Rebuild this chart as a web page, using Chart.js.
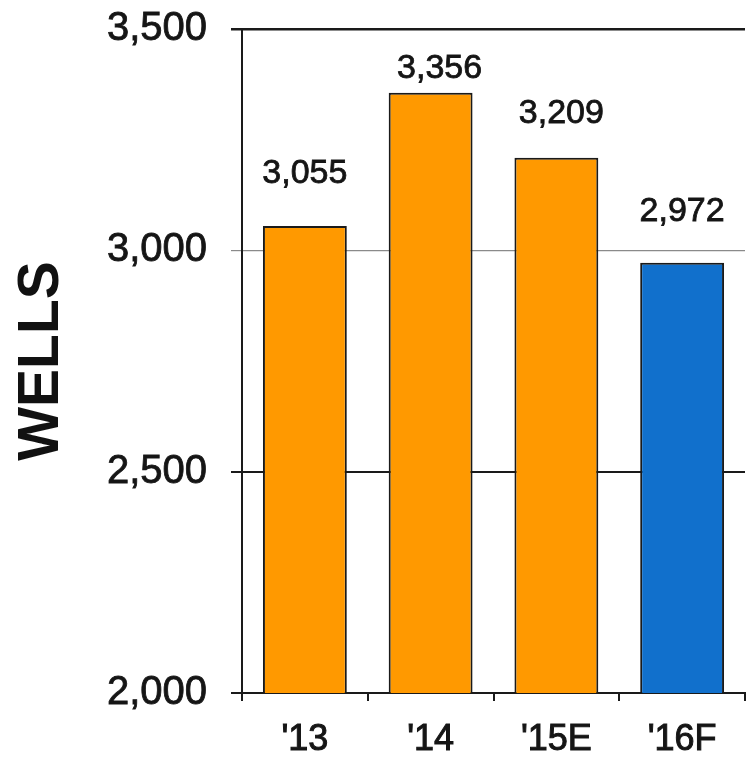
<!DOCTYPE html>
<html>
<head>
<meta charset="utf-8">
<script src="https://cdn.jsdelivr.net/npm/chart.js@4/dist/chart.umd.min.js"></script>
<style>
  html, body { margin: 0; padding: 0; background: #ffffff; }
  #wrap { width: 747px; height: 759px; }
</style>
</head>
<body>
<div id="wrap"><canvas id="c" width="747" height="759"></canvas></div>
<script>
// Wells drilled per year (E = estimate, F = forecast)
const categories = ["'13", "'14", "'15E", "'16F"];
const wells = [3055, 3356, 3209, 2972];
const valueLabels = ['3,055', '3,356', '3,209', '2,972'];
const yTicks = [2000, 2500, 3000, 3500];

// Presentation settings
const barColors = ['#FF9900', '#FF9900', '#FF9900', '#1170CC'];
const labelLift = [43, 15, 35, 42];   // gap between a bar top and its value label
const labelShift = [0, 9, 5, 0];      // horizontal nudge of each value label
const FONT = '"Liberation Sans", Arial, sans-serif';

const CHART_LEFT = 242;
const CHART_TOP = 29;
const CHART_BOTTOM = 693;

const valueLabelPlugin = {
  id: 'valueLabels',
  afterDatasetsDraw(chart) {
    const ctx = chart.ctx;
    const meta = chart.getDatasetMeta(0);
    ctx.save();
    ctx.font = '34px ' + FONT;
    ctx.fillStyle = '#151515';
    ctx.strokeStyle = '#151515';
    ctx.lineWidth = 0.8;
    ctx.textAlign = 'center';
    ctx.textBaseline = 'alphabetic';
    meta.data.forEach((bar, i) => {
      const x = bar.x + labelShift[i];
      const y = bar.y - labelLift[i];
      ctx.fillText(valueLabels[i], x, y);
      ctx.strokeText(valueLabels[i], x, y);
    });
    ctx.restore();
  }
};

new Chart(document.getElementById('c'), {
  type: 'bar',
  data: {
    labels: categories,
    datasets: [{
      data: wells,
      backgroundColor: barColors,
      borderColor: '#1a1a1a',
      borderWidth: 2,
      borderSkipped: false,
      categoryPercentage: 1.0,
      barPercentage: 0.667
    }]
  },
  options: {
    responsive: false,
    devicePixelRatio: 1,
    animation: false,
    layout: { padding: { top: CHART_TOP, right: 2, left: 0, bottom: 0 } },
    plugins: {
      legend: { display: false },
      tooltip: { enabled: false }
    },
    scales: {
      x: {
        offset: true,
        grid: {
          offset: true,
          drawOnChartArea: false,
          drawTicks: true,
          tickLength: 8,
          color: '#1a1a1a',
          lineWidth: 2
        },
        border: { display: true, color: '#1a1a1a', width: 2 },
        ticks: {
          color: '#151515',
          textStrokeColor: '#151515',
          textStrokeWidth: 1,
          font: { family: FONT, size: 36 },
          padding: 17,
          maxRotation: 0
        },
        afterFit(scale) { scale.height = 759 - CHART_BOTTOM; }
      },
      y: {
        min: 2000,
        max: 3500,
        afterBuildTicks(scale) { scale.ticks = yTicks.map(v => ({ value: v })); },
        grid: {
          drawTicks: true,
          tickLength: 11,
          color(ctx) {
            const v = ctx.tick && ctx.tick.value;
            if (v === 3000) return '#8a8a8a';
            return '#1a1a1a';
          },
          lineWidth(ctx) {
            const v = ctx.tick && ctx.tick.value;
            if (v === 3500) return 2.5;
            if (v === 3000) return 1.2;
            return 2;
          }
        },
        border: { display: true, color: '#1a1a1a', width: 2 },
        ticks: {
          color: '#151515',
          textStrokeColor: '#151515',
          textStrokeWidth: 0.8,
          font: { family: FONT, size: 40 },
          padding: 24,
          callback(v) { return v.toLocaleString('en-US'); }
        },
        title: {
          display: true,
          text: 'WELLS',
          color: '#111111',
          font: { family: FONT, size: 57, weight: 'bold' },
          padding: { top: 8, bottom: 0 }
        },
        afterFit(scale) {
          scale.width = CHART_LEFT;
          scale.paddingTop = 0;
          scale.paddingBottom = 0;
        }
      }
    }
  },
  plugins: [valueLabelPlugin]
});
</script>
</body>
</html>
